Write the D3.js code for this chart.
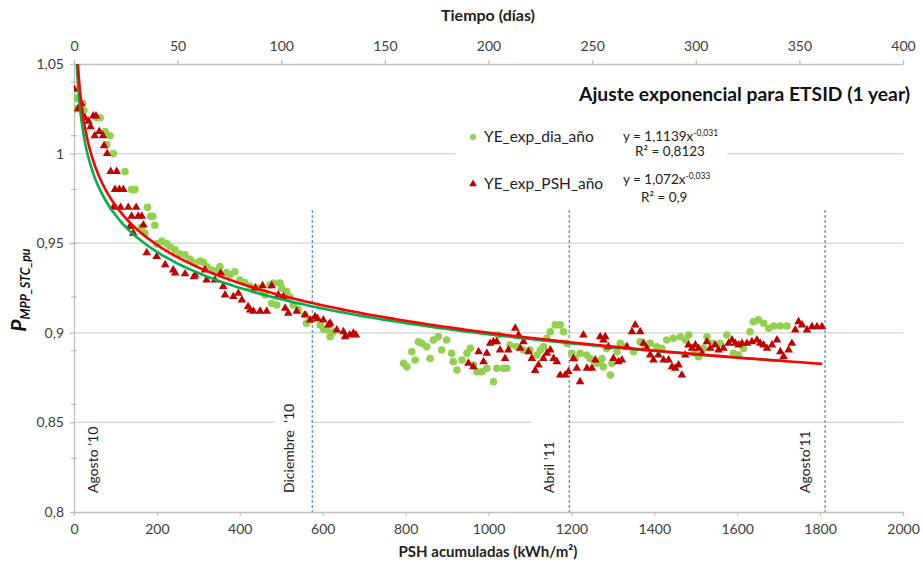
<!DOCTYPE html>
<html><head><meta charset="utf-8">
<script src="https://cdn.jsdelivr.net/npm/d3@7"></script>
<style>body{margin:0;background:#fff} text{font-family:Lato,"Open Sans",sans-serif}</style>
</head><body><svg id="c" width="923" height="566"></svg>
<script>
// ---------- data ----------
const xTicksPSH = [0,200,400,600,800,1000,1200,1400,1600,1800,2000];
const xTicksDays = [0,50,100,150,200,250,300,350,400];
const yTicks = [0.8,0.85,0.9,0.95,1,1.05];
const yTickLabels = ["0,8","0,85","0,9","0,95","1","1,05"];
const yMinorTicks = [0.83,0.86,0.89,0.92,0.95,0.98,1.01,1.04];

// green series: x = PSH acumuladas
const greenPSH = [0,4,6,10,21,24,55,63,75,79,87,95,123,139,147,163,171,177,185,190,195,200,212,224,232,244,256,268,280,292,304,312,320,332,344,352,368,376,388,400,412,425,433,445,457,461,473,477,481,489,497,501,513,521,529,541,557,561,570,582,594,602,610,618,626,
795,803,815,823,831,839,851,859,867,879,887,899,911,915,924,936,948,956,964,972,984,996,1012,1020,1024,1036,1044,1052,1068,1084,1100,1117,1125,1133,1141,1149,1161,1173,1181,1189,1201,1209,1221,1237,1245,1261,1269,1274,1277,1285,1294,1298,1310,1318,1330,1350,1366,1378,1390,1406,1418,1430,1446,1463,1475,1483,1499,1507,1519,1527,1539,1559,1575,1591,1603,1615,1631,1639,1651,1664,1676,1688,1704,1720];
const greenVal = [1.036,1.031,1.025,1.0305,1.028,1.024,1.02,1.02,1.0123,1.005,1.01,1.0,0.99,0.98,0.98,0.959,0.9556,0.97,0.965,0.965,0.96,0.9496,0.951,0.9496,0.948,0.9463,0.944,0.9435,0.941,0.939,0.94,0.9394,0.937,0.935,0.9345,0.937,0.9336,0.9323,0.934,0.9295,0.928,0.926,0.924,0.925,0.9224,0.9211,0.9267,0.9165,0.9277,0.9155,0.9277,0.925,0.923,0.92,0.9155,0.913,0.91,0.9053,0.907,0.908,0.9044,0.902,0.9016,0.8978,0.9006,
0.883,0.881,0.8894,0.8848,0.895,0.8941,0.8922,0.8857,0.896,0.8978,0.8904,0.896,0.8886,0.8839,0.8792,0.8848,0.8886,0.8913,0.882,0.8783,0.8783,0.8802,0.8727,0.8802,0.8988,0.8802,0.8802,0.8932,0.8922,0.8904,0.8904,0.8876,0.8904,0.8922,0.8969,0.9006,0.9044,0.9044,0.9006,0.8941,0.8886,0.8857,0.8886,0.8876,0.8857,0.883,0.8839,0.8857,0.881,0.8913,0.8764,0.883,0.8894,0.8941,0.8922,0.8894,0.895,0.8922,0.8941,0.8922,0.8913,0.896,0.8969,0.8978,0.896,0.8988,0.8886,0.8867,0.8913,0.8978,0.8941,0.8941,0.8988,0.8886,0.8876,0.8913,0.9006,0.9062,0.9072,0.9053,0.9025,0.9038,0.9038,0.9038];

// red series: x = Tiempo (días)
const redDays = [0,2,3.5,5.3,7,8,9.3,10,10.6,12.2,14,14.5,16,17.7,19,19.8,20.6,21.9,22.5,23.8,26.2,27,27.8,28.6,30,31,32.7,33.5,35.1,39.9,44,47.9,48.8,53.6,57.9,58.4,63.2,64,68,70.8,72,72.9,76.9,79.3,81,84,85,86.6,87.5,89.8,91,93,95.4,98.6,101,101.9,103.4,107.5,111.5,114,116.3,117.5,120.3,122.8,123.6,126.8,130,130.8,133,134.8,136,
190.3,192.7,195.2,197.6,199.2,200.8,202.4,204,205.6,208,209.6,212.9,214.5,215.3,216.9,219.3,220.9,222.5,224.1,226.5,228.2,229.8,231.4,233,234.6,237,238.6,241,242.6,244.2,245.8,247.5,249.9,251.5,253.9,255.5,256.3,257.9,260.3,262.7,264.4,266.8,269.2,270.8,273.2,274.8,276.4,278,279.6,282,284.5,286.9,288.5,290.1,291.7,293.3,294.9,296.5,298.2,299.8,301.4,303,305.4,307,309.4,311,313.4,315.8,317.5,319.1,320.7,322.3,324.7,327.1,329.5,331.1,332.7,334.4,336.8,339.2,340.8,342.4,344.8,346.4,348,349.6,351.3,353.7,356.1,358.5,360.9];
const redVal = [1.036,1.025,1.028,1.02,1.018,1.015,1.021,1.01,1.021,1.0123,1.01,1.0044,1.0,0.99,0.97,0.98,0.99,0.98,0.97,0.98,0.97,0.9593,0.965,0.9556,0.97,0.965,0.965,0.9602,0.9447,0.9425,0.938,0.935,0.9333,0.9329,0.9313,0.9323,0.935,0.9295,0.9295,0.9333,0.9258,0.9211,0.9202,0.922,0.9183,0.9146,0.9127,0.912,0.925,0.912,0.9263,0.912,0.9263,0.9211,0.9202,0.9137,0.9109,0.912,0.91,0.9072,0.909,0.908,0.9072,0.9044,0.9053,0.9016,0.9006,0.8978,0.8988,0.8997,0.8988,
0.883,0.881,0.8894,0.8839,0.8886,0.8941,0.895,0.895,0.8904,0.8857,0.8904,0.9025,0.8988,0.8913,0.895,0.8894,0.8857,0.879,0.882,0.8857,0.8886,0.8904,0.8857,0.8839,0.8764,0.8764,0.8783,0.8857,0.8802,0.8727,0.8988,0.8802,0.8802,0.8848,0.8978,0.896,0.8978,0.8922,0.8857,0.8839,0.8848,0.8922,0.9006,0.9044,0.9006,0.8941,0.8913,0.8876,0.8848,0.8876,0.8848,0.8848,0.881,0.8802,0.882,0.8764,0.8876,0.8932,0.8913,0.8932,0.8913,0.8886,0.895,0.8913,0.8932,0.8904,0.8913,0.8941,0.896,0.8941,0.8932,0.8941,0.8941,0.895,0.896,0.8941,0.8932,0.8913,0.8932,0.896,0.8894,0.8867,0.8904,0.8941,0.9016,0.9062,0.9044,0.9016,0.9034,0.9034,0.9034];

// power trend lines y = a * x^b
const trendGreenCoef = [1.1139, -0.031];   // x in PSH
const trendRedCoef = [1.072, -0.033];      // x in days
const trendGreenRange = [1, 1720];
const trendRedRange = [1, 361];

const eventPSH = [575, 1195, 1812];
const eventLabels = ["Agosto '10", "Diciembre  '10", "Abril '11", "Agosto'11"];
const eventLabelPSH = [45, 520, 1145, 1765];

// ---------- drawing ----------
const svg = d3.select("#c");
const L = 74, R = 903, T = 64, B = 512;
const xP = d3.scaleLinear().domain([0,2000]).range([L,R]);
const xD = d3.scaleLinear().domain([0,400]).range([L,R]);
const y = d3.scaleLinear().domain([0.8,1.05]).range([B,T]);
const axisCol = "#bfbfbf", gridCol = "#d4d4d4", txtCol = "#404040";

// gridlines
svg.append("g").selectAll("line").data([0.85,0.9,0.95,1]).join("line")
  .attr("x1",L).attr("x2",R).attr("y1",d=>y(d)).attr("y2",d=>y(d))
  .attr("stroke",gridCol).attr("stroke-width",1.3);

// white label boxes that interrupt gridlines
svg.append("rect").attr("x",xP(484)).attr("y",395).attr("width",xP(575)-xP(484)-2).attr("height",105).attr("fill","#fff");
svg.append("rect").attr("x",xP(1103)).attr("y",415).attr("width",xP(1195)-xP(1103)-2).attr("height",85).attr("fill","#fff");
// legend background
svg.append("rect").attr("x",455).attr("y",112).attr("width",272).attr("height",100).attr("fill","#fff");

// axes
const fmtAxis = g => { g.select(".domain").attr("stroke",axisCol).attr("stroke-width",1.3);
  g.selectAll(".tick line").attr("stroke",axisCol).attr("stroke-width",1.3);
  g.selectAll(".tick text").attr("fill",txtCol).attr("font-size",14).attr("font-family","Lato"); };

svg.append("g").attr("transform",`translate(0,${B})`)
  .call(d3.axisBottom(xP).tickValues(xTicksPSH).tickSize(4).tickSizeOuter(0).tickPadding(8).tickFormat(d3.format("d")))
  .call(fmtAxis);
svg.append("g").attr("transform",`translate(0,${T})`)
  .call(d3.axisTop(xD).tickValues(xTicksDays).tickSize(4).tickSizeOuter(0).tickPadding(9).tickFormat(d3.format("d")))
  .call(fmtAxis);
svg.append("g").attr("transform",`translate(${L},0)`)
  .call(d3.axisLeft(y).tickValues(yTicks).tickSize(4).tickSizeOuter(0).tickPadding(6).tickFormat((d,i)=>yTickLabels[i]))
  .call(fmtAxis);
svg.append("g").selectAll("line").data(yMinorTicks).join("line")
  .attr("x1",L-3).attr("x2",L+3).attr("y1",d=>y(d)).attr("y2",d=>y(d))
  .attr("stroke",axisCol).attr("stroke-width",1.3);

// event dashed lines
svg.append("g").selectAll("line").data(eventPSH).join("line")
  .attr("x1",d=>xP(d)).attr("x2",d=>xP(d)).attr("y1",210).attr("y2",B)
  .attr("stroke","#5b9bd5").attr("stroke-width",1.4).attr("stroke-dasharray","3,2");

// event labels
svg.append("g").selectAll("text").data(eventLabels).join("text")
  .attr("transform",(d,i)=>`translate(${xP(eventLabelPSH[i])},493) rotate(-90)`)
  .attr("dy","0.35em").attr("font-size",14).attr("fill","#222").attr("xml:space","preserve")
  .style("white-space","pre").text(d=>d);

// clip
svg.append("clipPath").attr("id","clip").append("rect").attr("x",L).attr("y",T).attr("width",R-L).attr("height",B-T);
const plot = svg.append("g").attr("clip-path","url(#clip)");

// green points
plot.append("g").selectAll("circle").data(greenPSH).join("circle")
  .attr("cx",d=>xP(d)).attr("cy",(d,i)=>y(greenVal[i])).attr("r",3.8).attr("fill","#92d050");
// red triangles
const tri = d3.symbol().type(d3.symbolTriangle).size(32);
plot.append("g").selectAll("path").data(redDays).join("path")
  .attr("d",tri).attr("transform",(d,i)=>`translate(${xD(d)},${y(redVal[i])})`).attr("fill","#c00000");

// trend lines
function trend(coef, range, xs){
  const pts=[]; const n=400;
  for(let k=0;k<=n;k++){ const t = range[0]*Math.pow(range[1]/range[0], k/n); pts.push([xs(t), y(coef[0]*Math.pow(t,coef[1]))]); }
  return d3.line().curve(d3.curveBasis)(pts);
}
plot.append("path").attr("d",trend(trendGreenCoef,trendGreenRange,xP)).attr("fill","none").attr("stroke","#00b050").attr("stroke-width",2.6);
plot.append("path").attr("d",trend(trendRedCoef,trendRedRange,xD)).attr("fill","none").attr("stroke","#ff0000").attr("stroke-width",2.6);

// titles
svg.append("text").attr("x",488).attr("y",21).attr("text-anchor","middle").attr("font-weight","bold").attr("font-size",16).attr("fill","#222").text("Tiempo (días)");
svg.append("text").attr("x",488).attr("y",557).attr("text-anchor","middle").attr("font-weight","bold").attr("font-size",15).attr("fill","#222").text("PSH acumuladas (kWh/m²)");
svg.append("text").attr("x",579).attr("y",101).attr("font-weight","bold").attr("font-size",18).attr("fill","#111")
  .attr("textLength",331).attr("lengthAdjust","spacingAndGlyphs").text("Ajuste exponencial para ETSID (1 year)");

// y axis title
const yt = svg.append("text").attr("transform","translate(26,290) rotate(-90)").attr("text-anchor","middle")
  .attr("font-weight","bold").attr("font-style","italic").attr("fill","#111");
yt.append("tspan").attr("font-size",21).text("P");
yt.append("tspan").attr("font-size",12.5).attr("dy",4).text("MPP_STC_pu");

// legend
const lg = svg.append("g");
lg.append("circle").attr("cx",473).attr("cy",137).attr("r",3).attr("fill","#92d050");
lg.append("path").attr("d",d3.symbol().type(d3.symbolTriangle).size(26)).attr("transform","translate(473,184)").attr("fill","#c00000");
lg.append("text").attr("x",484).attr("y",142).attr("font-size",15.5).attr("fill","#222").text("YE_exp_dia_año");
lg.append("text").attr("x",484).attr("y",189).attr("font-size",15.5).attr("fill","#222").text("YE_exp_PSH_año");
function eq(x, yb, a, b){
  const t = lg.append("text").attr("x",x).attr("y",yb).attr("font-size",13.5).attr("fill","#222");
  t.append("tspan").text(`y = ${a}x`);
  t.append("tspan").attr("font-size",8.5).attr("dy",-5).text(b);
}
eq(623,141,"1,1139","-0,031");
lg.append("text").attr("x",635).attr("y",156).attr("font-size",13.5).attr("fill","#222").text("R² = 0,8123");
eq(623,184,"1,072","-0,033");
lg.append("text").attr("x",641).attr("y",202).attr("font-size",13.5).attr("fill","#222").text("R² = 0,9");
</script></body></html>
